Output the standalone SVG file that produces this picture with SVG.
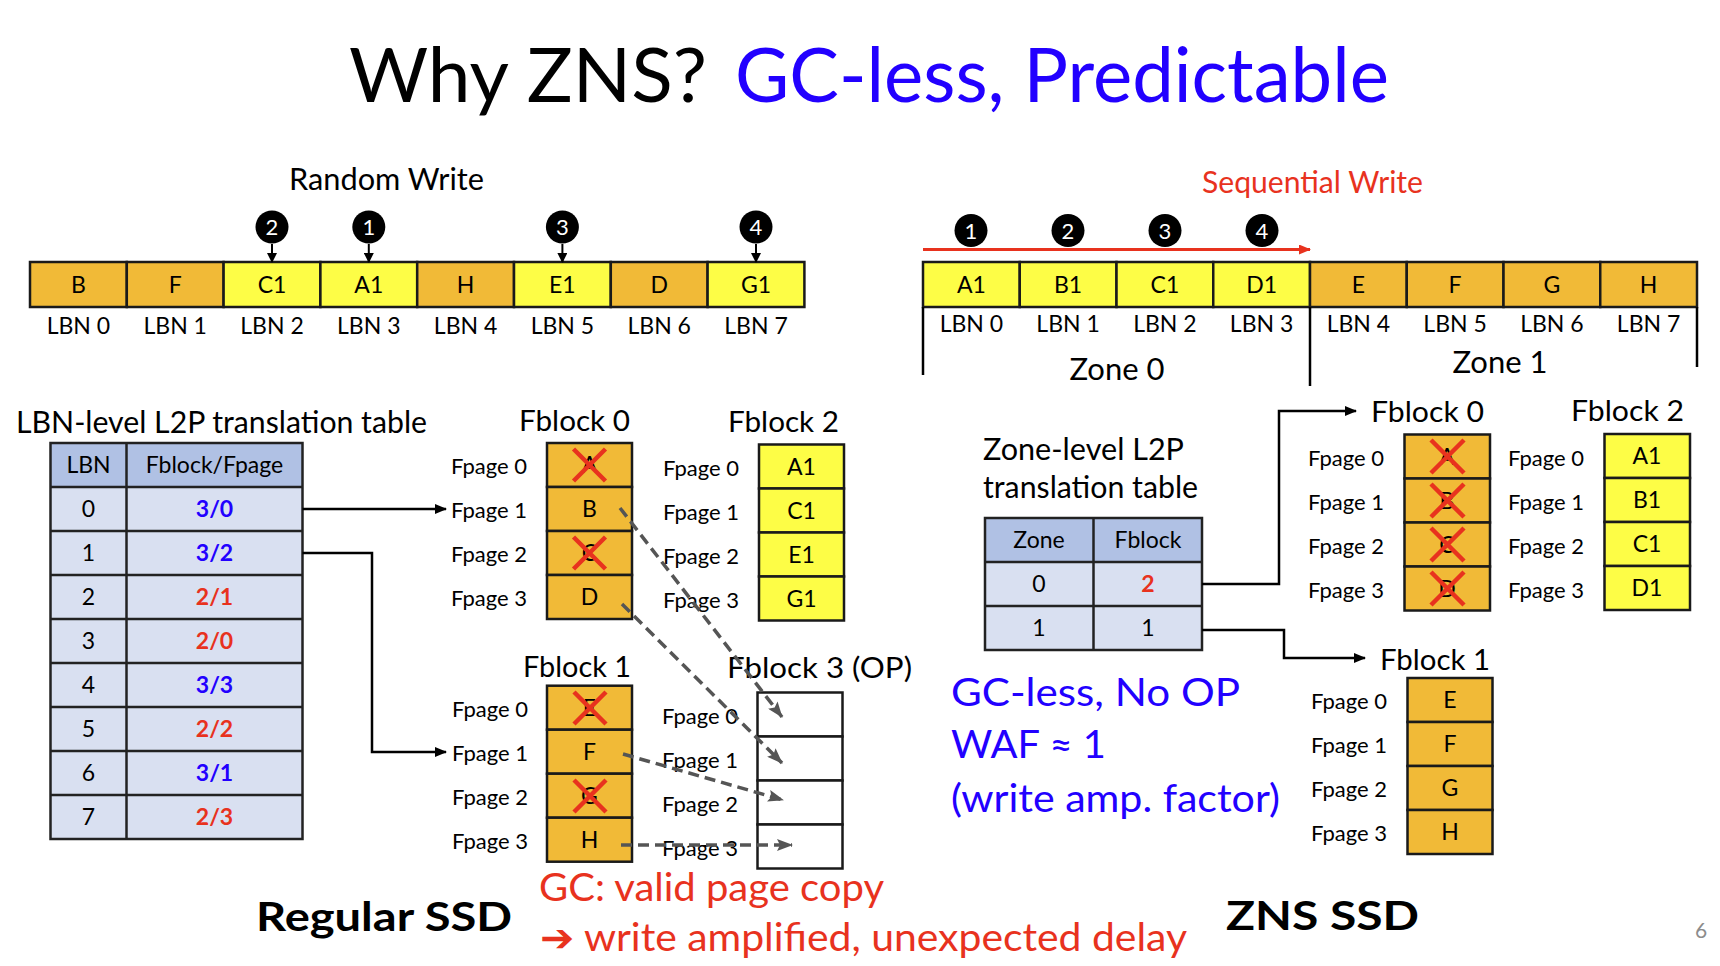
<svg xmlns="http://www.w3.org/2000/svg" width="1720" height="966" viewBox="0 0 1720 966">
<style>
text{font-family:Lato,"Open Sans","DejaVu Sans",sans-serif;fill:#000}
.c{text-anchor:middle}
.cell{stroke:#1a1a1a;stroke-width:2.5}
.o{fill:#F1BA37}
.y{fill:#FDFD46}
.w{fill:#fff}
.lab{font-size:23px}
.fp{font-size:22px}
.ft{font-size:29px}
.th{fill:#B0C1E4}
.tb{fill:#D9E0F1}
.blue{fill:#2200FF}
.red{fill:#E8321E}
.bold{font-weight:700}
.x{stroke:#E8321E;stroke-width:4.5;stroke-linecap:butt}
.conn{fill:none;stroke:#000;stroke-width:2.5}
.dash{fill:none;stroke:#555;stroke-width:3.5;stroke-dasharray:11 6}
.num{fill:#fff;font-size:22px;text-anchor:middle}
</style>
<defs>
<marker id="ab" markerUnits="userSpaceOnUse" viewBox="0 0 12 10" markerWidth="12" markerHeight="10" refX="11" refY="5" orient="auto"><path d="M0,0 L12,5 L0,10 z" fill="#000"/></marker>
<marker id="ag" markerUnits="userSpaceOnUse" viewBox="0 0 16 12" markerWidth="16" markerHeight="12" refX="15" refY="6" orient="auto"><path d="M0,0 L16,6 L0,12 L3,6 z" fill="#555"/></marker>
<marker id="ar" markerUnits="userSpaceOnUse" viewBox="0 0 12 10" markerWidth="12" markerHeight="10" refX="11" refY="5" orient="auto"><path d="M0,0 L12,5 L0,10 z" fill="#E8321E"/></marker>
<marker id="as" markerUnits="userSpaceOnUse" viewBox="0 0 10 10" markerWidth="10" markerHeight="10" refX="9" refY="5" orient="auto"><path d="M0,0 L10,5 L0,10 z" fill="#000"/></marker>
</defs>
<rect width="1720" height="966" fill="#fff"/>

<g id="title">
<text x="349" y="102" font-size="76" textLength="358" lengthAdjust="spacingAndGlyphs">Why ZNS?</text>
<text x="735" y="102" font-size="76" class="blue" textLength="654" lengthAdjust="spacingAndGlyphs">GC-less, Predictable</text>
</g>

<!-- Random write -->
<g id="random-write-label"><text x="289" y="190" font-size="30" textLength="195" lengthAdjust="spacingAndGlyphs">Random Write</text></g>
<g id="random-bar">
<rect class="cell o" x="30" y="262" width="96.8" height="45"/>
<rect class="cell o" x="126.8" y="262" width="96.8" height="45"/>
<rect class="cell y" x="223.6" y="262" width="96.8" height="45"/>
<rect class="cell y" x="320.4" y="262" width="96.8" height="45"/>
<rect class="cell o" x="417.2" y="262" width="96.8" height="45"/>
<rect class="cell y" x="514" y="262" width="96.8" height="45"/>
<rect class="cell o" x="610.8" y="262" width="96.8" height="45"/>
<rect class="cell y" x="707.6" y="262" width="96.8" height="45"/>
<g class="lab c">
<text x="78.4" y="293">B</text><text x="175.2" y="293">F</text><text x="272" y="293">C1</text><text x="368.8" y="293">A1</text>
<text x="465.6" y="293">H</text><text x="562.4" y="293">E1</text><text x="659.2" y="293">D</text><text x="756" y="293">G1</text>
</g>
<g class="lab c">
<text x="78.4" y="334">LBN 0</text><text x="175.2" y="334">LBN 1</text><text x="272" y="334">LBN 2</text><text x="368.8" y="334">LBN 3</text>
<text x="465.6" y="334">LBN 4</text><text x="562.4" y="334">LBN 5</text><text x="659.2" y="334">LBN 6</text><text x="756" y="334">LBN 7</text>
</g>
</g>
<g id="random-steps">
<circle cx="272" cy="227" r="16.5" fill="#000"/><text class="num" x="272" y="235">2</text>
<circle cx="368.8" cy="227" r="16.5" fill="#000"/><text class="num" x="368.8" y="235">1</text>
<circle cx="562.4" cy="227" r="16.5" fill="#000"/><text class="num" x="562.4" y="235">3</text>
<circle cx="756" cy="227" r="16.5" fill="#000"/><text class="num" x="756" y="235">4</text>
</g>

<!-- Sequential write -->
<g id="sequential-write-label"><text x="1202" y="193" font-size="30" class="red" textLength="221" lengthAdjust="spacingAndGlyphs">Sequential Write</text></g>
<g id="seq-bar">
<rect class="cell y" x="923" y="262" width="96.75" height="45"/>
<rect class="cell y" x="1019.75" y="262" width="96.75" height="45"/>
<rect class="cell y" x="1116.5" y="262" width="96.75" height="45"/>
<rect class="cell y" x="1213.25" y="262" width="96.75" height="45"/>
<rect class="cell o" x="1310" y="262" width="96.75" height="45"/>
<rect class="cell o" x="1406.75" y="262" width="96.75" height="45"/>
<rect class="cell o" x="1503.5" y="262" width="96.75" height="45"/>
<rect class="cell o" x="1600.25" y="262" width="96.75" height="45"/>
<g class="lab c">
<text x="971.4" y="293">A1</text><text x="1068.1" y="293">B1</text><text x="1164.9" y="293">C1</text><text x="1261.6" y="293">D1</text>
<text x="1358.4" y="293">E</text><text x="1455.1" y="293">F</text><text x="1551.9" y="293">G</text><text x="1648.6" y="293">H</text>
</g>
<g class="lab c">
<text x="971.4" y="332">LBN 0</text><text x="1068.1" y="332">LBN 1</text><text x="1164.9" y="332">LBN 2</text><text x="1261.6" y="332">LBN 3</text>
<text x="1358.4" y="332">LBN 4</text><text x="1455.1" y="332">LBN 5</text><text x="1551.9" y="332">LBN 6</text><text x="1648.6" y="332">LBN 7</text>
</g>
<g stroke="#000" stroke-width="2.5">
<line x1="923" y1="307" x2="923" y2="375"/>
<line x1="1310" y1="307" x2="1310" y2="386"/>
<line x1="1697" y1="307" x2="1697" y2="367"/>
</g>
<text x="1117" y="380" font-size="31" class="c">Zone 0</text>
<text x="1500" y="373" font-size="31" class="c">Zone 1</text>
</g>
<g id="seq-steps">
<circle cx="971" cy="230.5" r="16.5" fill="#000"/><text class="num" x="971" y="238.5">1</text>
<circle cx="1068" cy="230.5" r="16.5" fill="#000"/><text class="num" x="1068" y="238.5">2</text>
<circle cx="1165" cy="230.5" r="16.5" fill="#000"/><text class="num" x="1165" y="238.5">3</text>
<circle cx="1262" cy="230.5" r="16.5" fill="#000"/><text class="num" x="1262" y="238.5">4</text>
</g>

<!-- LBN-level table -->
<g id="lbn-table">
<text x="16" y="433" font-size="30" textLength="411" lengthAdjust="spacingAndGlyphs">LBN-level L2P translation table</text>
<rect class="th" x="50.5" y="443" width="252" height="44"/>
<rect class="tb" x="50.5" y="487" width="252" height="352"/>
<g stroke="#222" stroke-width="2.5" fill="none">
<rect x="50.5" y="443" width="252" height="396"/>
<line x1="126.5" y1="443" x2="126.5" y2="839"/>
<line x1="50.5" y1="487" x2="302.5" y2="487"/><line x1="50.5" y1="531" x2="302.5" y2="531"/>
<line x1="50.5" y1="575" x2="302.5" y2="575"/><line x1="50.5" y1="619" x2="302.5" y2="619"/>
<line x1="50.5" y1="663" x2="302.5" y2="663"/><line x1="50.5" y1="707" x2="302.5" y2="707"/>
<line x1="50.5" y1="751" x2="302.5" y2="751"/><line x1="50.5" y1="795" x2="302.5" y2="795"/>
</g>
<g class="lab c">
<text x="88.5" y="473">LBN</text><text x="214.5" y="473">Fblock/Fpage</text>
<text x="88.5" y="517">0</text><text x="88.5" y="561">1</text><text x="88.5" y="605">2</text><text x="88.5" y="649">3</text>
<text x="88.5" y="693">4</text><text x="88.5" y="737">5</text><text x="88.5" y="781">6</text><text x="88.5" y="825">7</text>
</g>
<g class="lab c bold">
<text class="blue" x="214.5" y="517">3/0</text><text class="blue" x="214.5" y="561">3/2</text>
<text class="red" x="214.5" y="605">2/1</text><text class="red" x="214.5" y="649">2/0</text>
<text class="blue" x="214.5" y="693">3/3</text><text class="red" x="214.5" y="737">2/2</text>
<text class="blue" x="214.5" y="781">3/1</text><text class="red" x="214.5" y="825">2/3</text>
</g>
</g>

<!-- Regular SSD Fblock 0 -->
<g id="r-fblock0">
<text x="519" y="431" class="ft" textLength="111" lengthAdjust="spacingAndGlyphs">Fblock 0</text>
<rect class="cell o" x="547" y="443" width="85" height="44"/>
<rect class="cell o" x="547" y="487" width="85" height="44"/>
<rect class="cell o" x="547" y="531" width="85" height="44"/>
<rect class="cell o" x="547" y="575" width="85" height="44"/>
<g class="lab c"><text x="589.5" y="473">A</text><text x="589.5" y="517">B</text><text x="589.5" y="561">C</text><text x="589.5" y="605">D</text></g>
<g class="x"><path d="M573.5,449 L605.5,481 M605.5,449 L573.5,481"/><path d="M573.5,537 L605.5,569 M605.5,537 L573.5,569"/></g>
<g class="fp"><text x="451" y="474">Fpage 0</text><text x="451" y="518">Fpage 1</text><text x="451" y="562">Fpage 2</text><text x="451" y="606">Fpage 3</text></g>
</g>
<g id="r-fblock2">
<text x="728" y="432" class="ft" textLength="111" lengthAdjust="spacingAndGlyphs">Fblock 2</text>
<rect class="cell y" x="759" y="444.5" width="85" height="44"/>
<rect class="cell y" x="759" y="488.5" width="85" height="44"/>
<rect class="cell y" x="759" y="532.5" width="85" height="44"/>
<rect class="cell y" x="759" y="576.5" width="85" height="44"/>
<g class="lab c"><text x="801.5" y="475">A1</text><text x="801.5" y="519">C1</text><text x="801.5" y="563">E1</text><text x="801.5" y="607">G1</text></g>
<g class="fp"><text x="663" y="476">Fpage 0</text><text x="663" y="520">Fpage 1</text><text x="663" y="564">Fpage 2</text><text x="663" y="608">Fpage 3</text></g>
</g>
<g id="r-fblock1">
<text x="523" y="677" class="ft" textLength="108" lengthAdjust="spacingAndGlyphs">Fblock 1</text>
<rect class="cell o" x="547" y="685.7" width="85" height="44"/>
<rect class="cell o" x="547" y="729.7" width="85" height="44"/>
<rect class="cell o" x="547" y="773.7" width="85" height="44"/>
<rect class="cell o" x="547" y="817.7" width="85" height="44"/>
<g class="lab c"><text x="589.5" y="716">E</text><text x="589.5" y="760">F</text><text x="589.5" y="804">G</text><text x="589.5" y="848">H</text></g>
<g class="x"><path d="M574,692 L606,724 M606,692 L574,724"/><path d="M574,780 L606,812 M606,780 L574,812"/></g>
<g class="fp"><text x="452" y="717">Fpage 0</text><text x="452" y="761">Fpage 1</text><text x="452" y="805">Fpage 2</text><text x="452" y="849">Fpage 3</text></g>
</g>
<g id="r-fblock3">
<text x="727" y="678" class="ft" textLength="185" lengthAdjust="spacingAndGlyphs">Fblock 3 (OP)</text>
<rect class="cell w" x="757.5" y="692.5" width="85" height="44" stroke-width="2"/>
<rect class="cell w" x="757.5" y="736.5" width="85" height="44" stroke-width="2"/>
<rect class="cell w" x="757.5" y="780.5" width="85" height="44" stroke-width="2"/>
<rect class="cell w" x="757.5" y="824.5" width="85" height="44" stroke-width="2"/>
<g class="fp"><text x="662" y="724">Fpage 0</text><text x="662" y="768">Fpage 1</text><text x="662" y="812">Fpage 2</text><text x="662" y="856">Fpage 3</text></g>
</g>

<!-- Zone-level table -->
<g id="zone-table">
<text x="983" y="460" font-size="30" textLength="201" lengthAdjust="spacingAndGlyphs">Zone-level L2P</text>
<text x="983" y="498" font-size="30" textLength="215" lengthAdjust="spacingAndGlyphs">translation table</text>
<rect class="th" x="985" y="518" width="217" height="44"/>
<rect class="tb" x="985" y="562" width="217" height="88"/>
<g stroke="#222" stroke-width="2.5" fill="none">
<rect x="985" y="518" width="217" height="132"/>
<line x1="1093.5" y1="518" x2="1093.5" y2="650"/>
<line x1="985" y1="562" x2="1202" y2="562"/><line x1="985" y1="606" x2="1202" y2="606"/>
</g>
<g class="lab c">
<text x="1039" y="548">Zone</text><text x="1148" y="548">Fblock</text>
<text x="1039" y="592">0</text><text class="red bold" x="1148" y="592">2</text>
<text x="1039" y="636">1</text><text x="1148" y="636">1</text>
</g>
</g>

<g id="z-fblock0">
<text x="1371" y="422" class="ft" textLength="113" lengthAdjust="spacingAndGlyphs">Fblock 0</text>
<rect class="cell o" x="1404.5" y="434.5" width="85.5" height="44"/>
<rect class="cell o" x="1404.5" y="478.5" width="85.5" height="44"/>
<rect class="cell o" x="1404.5" y="522.5" width="85.5" height="44"/>
<rect class="cell o" x="1404.5" y="566.5" width="85.5" height="44"/>
<g class="lab c"><text x="1447" y="465">A</text><text x="1447" y="509">B</text><text x="1447" y="553">C</text><text x="1447" y="597">D</text></g>
<g class="x">
<path d="M1431,440 L1464,473 M1464,440 L1431,473"/>
<path d="M1431,484 L1464,517 M1464,484 L1431,517"/>
<path d="M1431,528 L1464,561 M1464,528 L1431,561"/>
<path d="M1431,572 L1464,605 M1464,572 L1431,605"/>
</g>
<g class="fp"><text x="1308" y="466">Fpage 0</text><text x="1308" y="510">Fpage 1</text><text x="1308" y="554">Fpage 2</text><text x="1308" y="598">Fpage 3</text></g>
</g>
<g id="z-fblock2">
<text x="1571" y="421" class="ft" textLength="113" lengthAdjust="spacingAndGlyphs">Fblock 2</text>
<rect class="cell y" x="1604.5" y="434" width="85.5" height="44"/>
<rect class="cell y" x="1604.5" y="478" width="85.5" height="44"/>
<rect class="cell y" x="1604.5" y="522" width="85.5" height="44"/>
<rect class="cell y" x="1604.5" y="566" width="85.5" height="44"/>
<g class="lab c"><text x="1647" y="464">A1</text><text x="1647" y="508">B1</text><text x="1647" y="552">C1</text><text x="1647" y="596">D1</text></g>
<g class="fp"><text x="1508" y="466">Fpage 0</text><text x="1508" y="510">Fpage 1</text><text x="1508" y="554">Fpage 2</text><text x="1508" y="598">Fpage 3</text></g>
</g>
<g id="z-fblock1">
<text x="1380" y="670" class="ft" textLength="110" lengthAdjust="spacingAndGlyphs">Fblock 1</text>
<rect class="cell o" x="1407.5" y="678" width="85" height="44"/>
<rect class="cell o" x="1407.5" y="722" width="85" height="44"/>
<rect class="cell o" x="1407.5" y="766" width="85" height="44"/>
<rect class="cell o" x="1407.5" y="810" width="85" height="44"/>
<g class="lab c"><text x="1450" y="708">E</text><text x="1450" y="752">F</text><text x="1450" y="796">G</text><text x="1450" y="840">H</text></g>
<g class="fp"><text x="1311" y="709">Fpage 0</text><text x="1311" y="753">Fpage 1</text><text x="1311" y="797">Fpage 2</text><text x="1311" y="841">Fpage 3</text></g>
</g>

<g id="zns-notes">
<text x="951" y="706" font-size="38" class="blue" textLength="289" lengthAdjust="spacingAndGlyphs">GC-less, No OP</text>
<text x="951" y="758" font-size="38" class="blue" textLength="155" lengthAdjust="spacingAndGlyphs">WAF ≈ 1</text>
<text x="951" y="812" font-size="38" class="blue" textLength="329" lengthAdjust="spacingAndGlyphs">(write amp. factor)</text>
</g>

<g id="gc-notes">
<text x="539" y="901" font-size="38" class="red" textLength="345" lengthAdjust="spacingAndGlyphs">GC: valid page copy</text>
<text x="540" y="951" font-size="38" class="red" textLength="647" lengthAdjust="spacingAndGlyphs"><tspan font-family="DejaVu Sans" font-weight="700">➔</tspan> write amplified, unexpected delay</text>
</g>
<g id="captions">
<text x="256" y="931" font-size="40" class="bold" textLength="256" lengthAdjust="spacingAndGlyphs">Regular SSD</text>
<text x="1226" y="930" font-size="40" class="bold" textLength="193" lengthAdjust="spacingAndGlyphs">ZNS SSD</text>
<text x="1695" y="938" font-size="21" style="fill:#8c8c8c">6</text>
</g>

<g id="connectors">
<line x1="272" y1="244" x2="272" y2="262" stroke="#000" stroke-width="2" marker-end="url(#as)"/>
<line x1="368.8" y1="244" x2="368.8" y2="262" stroke="#000" stroke-width="2" marker-end="url(#as)"/>
<line x1="562.4" y1="244" x2="562.4" y2="262" stroke="#000" stroke-width="2" marker-end="url(#as)"/>
<line x1="756" y1="244" x2="756" y2="262" stroke="#000" stroke-width="2" marker-end="url(#as)"/>
<line x1="923" y1="249.5" x2="1310" y2="249.5" stroke="#E8321E" stroke-width="3" marker-end="url(#ar)"/>
<path class="conn" d="M302.5,509 H446" marker-end="url(#ab)"/>
<path class="conn" d="M302.5,553 H372 V752 H446" marker-end="url(#ab)"/>
<path class="conn" d="M1202,584 H1279 V411 H1356" marker-end="url(#ab)"/>
<path class="conn" d="M1202,630 H1284 V658 H1365" marker-end="url(#ab)"/>
<path class="dash" d="M620,508 L782,717" marker-end="url(#ag)"/>
<path class="dash" d="M622,604 L782,763" marker-end="url(#ag)"/>
<path class="dash" d="M623,754 L783,800" marker-end="url(#ag)"/>
<path class="dash" d="M621,845 L792,845" marker-end="url(#ag)"/>
</g>
</svg>
